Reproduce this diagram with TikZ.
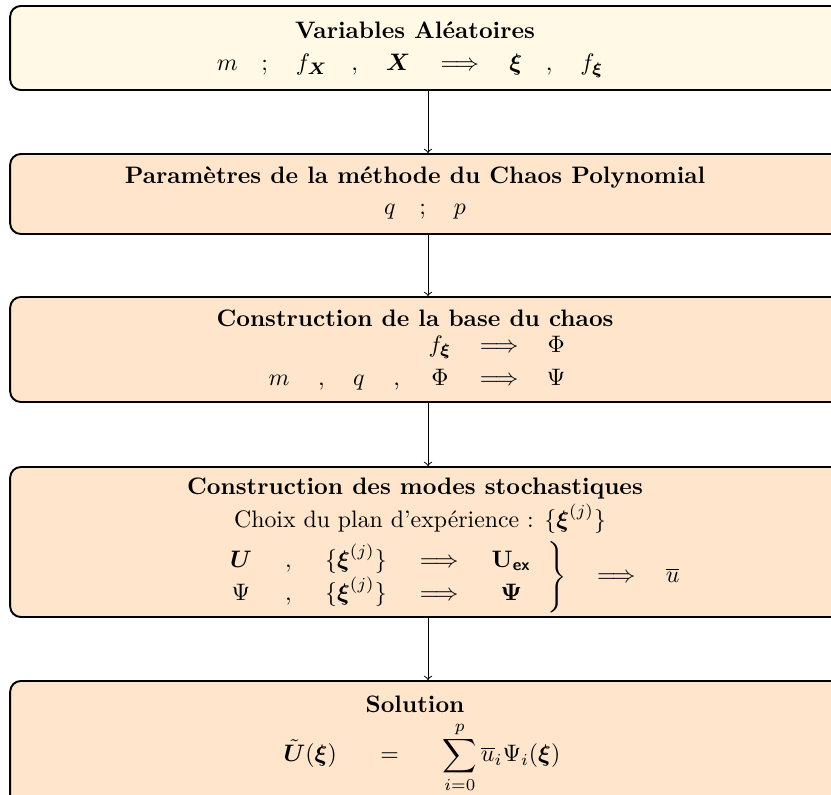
\documentclass[tikz,border=0pt]{standalone}
\usepackage{amsmath}
\usepackage{amssymb}
\usetikzlibrary{arrows}
\definecolor{varfill}{RGB}{255,249,230}
\definecolor{stepfill}{RGB}{255,229,204}
\tikzset{
  panel/.style={draw=black, thick, rounded corners=4.5pt, minimum width=351pt, inner sep=0pt},
  heading/.style={font=\bfseries, inner sep=0pt},
  body/.style={inner sep=0pt}
}
\newcommand{\bxi}{\boldsymbol{\xi}}

\begin{document}
\begin{tikzpicture}[x=0.42pt,y=-0.42pt]
\useasboundingbox (0,0) rectangle (831,794);
\coordinate (axis) at (428,0);
\node [panel, fill=varfill, minimum height=35.3pt] (vars) at (428,48) {};
\node [panel, fill=stepfill, minimum height=33.6pt] (param) at (428,194) {};
\node [panel, fill=stepfill, minimum height=44.1pt] (base) at (428,349.5) {};
\node [panel, fill=stepfill, minimum height=63pt] (modes) at (428,542) {};
\node [panel, fill=stepfill, minimum height=54.2pt] (sol) at (428,745.5) {};
\node [heading] (varst) at (415,30) {Variables Aléatoires};
\node [body] (varsb) at (410,66) {$m \quad ; \quad f_{\boldsymbol{X}} \quad , \quad \boldsymbol{X} \quad \Longrightarrow \quad \bxi \quad , \quad f_{\bxi}$};
\node [heading] (paramt) at (415,178) {Paramètres de la méthode du Chaos Polynomial};
\node [body] (paramb) at (425,212) {$q \quad ; \quad p$};
\node [heading] (baset) at (415,318) {Construction de la base du chaos};
\node [body] (baseb) at (417,362) {$\renewcommand{\arraystretch}{1.16}\setlength{\arraycolsep}{6pt}\begin{array}{ccccccc} & & & & f_{\bxi} & \Longrightarrow & \Phi \\ m & , & q & , & \Phi & \Longrightarrow & \Psi \end{array}$};
\node [heading] (modest) at (415,489) {Construction des modes stochastiques};
\node [body] (modesc) at (420,519) {Choix du plan d'expérience : $\{\bxi^{(j)}\}$};
\node [body] (modesb) at (445,577) {$\renewcommand{\arraystretch}{1.16}\setlength{\arraycolsep}{7pt}\left.\begin{array}{ccccc} \boldsymbol{U} & , & \{\bxi^{(j)}\} & \Longrightarrow & \mathbf{U}_{\textsf{\textbf{ex}}} \\ \Psi & , & \{\bxi^{(j)}\} & \Longrightarrow & \boldsymbol{\Psi} \end{array}\right\} \quad \Longrightarrow \quad \overline{u}$};
\node [heading] (solt) at (415,704) {Solution};
\node [body] (solb) at (422,757) {$\displaystyle \tilde{\boldsymbol{U}}(\bxi) \quad\;\; = \quad\;\; \sum_{i=0}^{p} \overline{u}_i \Psi_i(\bxi)$};
\draw [->] (vars.south -| axis) -- (param.north -| axis);
\draw [->] (param.south -| axis) -- (base.north -| axis);
\draw [->] (base.south -| axis) -- (modes.north -| axis);
\draw [->] (modes.south -| axis) -- (sol.north -| axis);
\end{tikzpicture}
\end{document}
